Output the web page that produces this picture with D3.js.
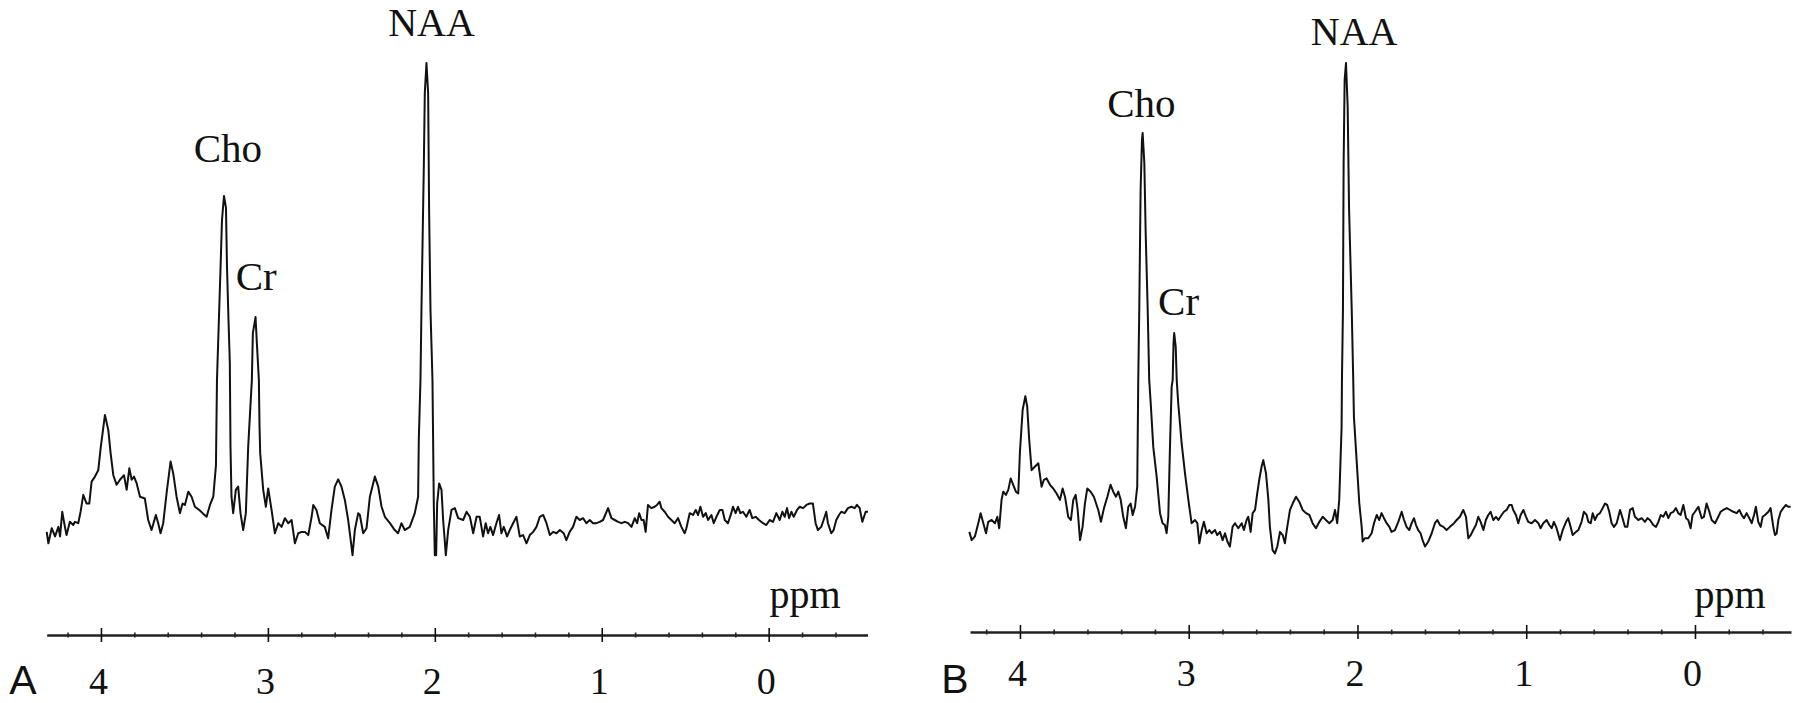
<!DOCTYPE html>
<html><head><meta charset="utf-8">
<script src="https://cdn.jsdelivr.net/npm/d3@7/dist/d3.min.js"></script>
<style>body{margin:0;background:#fff}svg{display:block}</style>
</head><body>
<svg id="c" width="1800" height="703"></svg>
<script>
// ---- Spectrum A (ppm, intensity in % of NAA peak) ----
const ppmA = [4.325,4.315,4.295,4.275,4.255,4.245,4.232,4.216,4.206,4.186,4.166,4.156,4.136,4.122,4.106,4.086,4.070,4.056,4.036,4.016,4.001,3.976,3.956,3.942,3.926,3.906,3.886,3.862,3.846,3.830,3.816,3.802,3.786,3.766,3.737,3.717,3.697,3.671,3.657,3.643,3.627,3.607,3.583,3.567,3.547,3.527,3.511,3.497,3.477,3.457,3.437,3.411,3.391,3.367,3.347,3.327,3.311,3.305,3.293,3.284,3.275,3.263,3.251,3.245,3.236,3.228,3.224,3.218,3.208,3.192,3.178,3.164,3.148,3.132,3.118,3.105,3.096,3.090,3.074,3.066,3.054,3.050,3.046,3.028,3.012,2.998,2.978,2.958,2.938,2.918,2.898,2.878,2.858,2.838,2.818,2.798,2.778,2.758,2.738,2.728,2.709,2.689,2.659,2.639,2.619,2.599,2.579,2.559,2.539,2.519,2.499,2.493,2.479,2.459,2.449,2.429,2.409,2.389,2.359,2.339,2.319,2.299,2.269,2.240,2.220,2.200,2.180,2.150,2.120,2.100,2.096,2.086,2.080,2.066,2.060,2.050,2.040,2.034,2.026,2.014,2.006,2.000,1.992,1.986,1.974,1.960,1.950,1.934,1.920,1.900,1.880,1.860,1.830,1.810,1.790,1.770,1.750,1.731,1.711,1.695,1.681,1.667,1.651,1.631,1.615,1.601,1.587,1.567,1.551,1.531,1.511,1.491,1.471,1.451,1.431,1.411,1.391,1.371,1.351,1.331,1.311,1.291,1.271,1.251,1.228,1.212,1.192,1.172,1.152,1.132,1.112,1.092,1.072,1.052,1.032,1.012,0.992,0.962,0.942,0.922,0.902,0.882,0.862,0.842,0.822,0.802,0.788,0.776,0.762,0.749,0.737,0.723,0.703,0.683,0.669,0.653,0.643,0.623,0.603,0.583,0.563,0.543,0.523,0.503,0.493,0.473,0.453,0.437,0.423,0.409,0.393,0.377,0.363,0.343,0.329,0.313,0.293,0.277,0.263,0.244,0.224,0.214,0.198,0.184,0.170,0.154,0.134,0.114,0.098,0.078,0.058,0.034,0.014,-0.006,-0.026,-0.046,-0.066,-0.082,-0.096,-0.110,-0.122,-0.136,-0.150,-0.170,-0.186,-0.206,-0.226,-0.246,-0.265,-0.281,-0.295,-0.315,-0.329,-0.345,-0.355,-0.375,-0.389,-0.405,-0.421,-0.435,-0.455,-0.475,-0.495,-0.515,-0.529,-0.545,-0.561,-0.571,-0.581,-0.595];
const intA = [-2.6,-5.1,-1.8,-3.6,-1.5,-3.6,1.8,-1.5,-3.3,-0.4,-1.1,-0.4,-0.7,1.8,5.5,3.6,3.6,8.4,9.5,10.9,16.0,23.0,19.7,14.6,9.8,7.7,8.8,9.8,6.6,11.3,8.8,9.5,8.0,5.1,4.7,0,-2.2,1.1,-0.7,-2.9,-0.7,5.8,12.8,10.2,5.1,1.5,3.6,3.3,6.2,5.1,2.9,2.2,1.5,0.7,3.3,5.1,12.0,30.6,44.4,54.7,65.6,70.9,68.3,55.4,43.8,34.4,16.0,5.1,1.5,6.6,7.3,1.5,-2.2,1.5,16.0,24.7,30.6,40.9,44.4,38.7,30.6,20.4,14.6,6.6,2.9,6.9,2.2,-2.9,-0.7,-1.5,0.4,-0.7,0,-5.1,-2.9,-2.6,-2.6,-3.3,0.7,3.3,2.2,-0.7,-1.5,-4.0,2.2,7.3,8.9,7.3,4.4,0,-5.8,-7.7,-2.2,1.5,1.1,-2.9,-1.8,5.1,9.5,7.3,2.9,0.7,-0.7,-2.2,-2.9,-0.7,-2.2,-1.5,1.5,5.1,17.5,30.6,46.0,77.2,93.4,100,93.4,67.2,46.0,30.6,3.3,-7.7,-7.7,3.6,8.0,6.6,0,-7.7,-2.2,2.2,2.6,0.4,0,1.8,0.7,-2.9,0.7,0.7,-3.6,-0.7,-2.9,-1.5,-3.3,-0.7,1.1,-2.9,-1.5,-3.6,-2.2,-0.7,0.7,-3.6,-3.3,-5.1,-3.3,-2.6,-1.5,0.7,1.1,-0.7,-3.3,-2.6,-2.9,-2.2,-2.9,-4.4,-2.6,-1.5,0.7,0,0.4,-0.7,0,-0.7,-0.7,-0.4,0,2.6,0.4,0,-0.4,-0.7,-0.4,-0.7,-1.5,0.4,-0.7,1.5,0,0,-2.6,3.3,2.6,2.9,3.3,4.0,2.6,1.8,0.7,0,-0.7,0.4,-1.5,-2.9,-1.8,1.5,1.1,2.2,1.1,2.9,0.7,1.5,0,1.1,-0.7,0.7,2.2,2.2,0,-0.7,1.5,2.9,1.5,2.9,1.5,1.8,0.7,2.2,0.4,0.7,0,-0.7,-1.1,0,-0.4,1.5,0,1.8,0.7,2.6,0.4,1.8,0.7,2.2,2.9,2.6,3.3,3.6,3.6,-0.7,-2.2,-1.5,0,1.8,-0.7,-2.9,-2.2,0,1.1,1.8,1.5,2.6,2.9,2.6,3.3,2.6,-0.4,0.7,1.8,1.8];

// ---- Spectrum B ----
const ppmB = [4.300,4.286,4.267,4.247,4.233,4.217,4.201,4.188,4.168,4.148,4.134,4.123,4.109,4.099,4.083,4.069,4.055,4.040,4.024,4.010,4.000,3.984,3.968,3.957,3.945,3.931,3.911,3.891,3.872,3.858,3.842,3.822,3.803,3.783,3.763,3.747,3.733,3.714,3.698,3.684,3.670,3.658,3.644,3.629,3.615,3.601,3.581,3.562,3.536,3.520,3.502,3.482,3.463,3.447,3.431,3.417,3.403,3.388,3.372,3.358,3.344,3.332,3.318,3.305,3.299,3.293,3.285,3.277,3.273,3.263,3.255,3.243,3.234,3.225,3.210,3.190,3.170,3.155,3.141,3.131,3.121,3.111,3.101,3.095,3.090,3.086,3.077,3.071,3.062,3.042,3.022,3.002,2.983,2.963,2.949,2.937,2.923,2.910,2.894,2.878,2.864,2.844,2.831,2.815,2.799,2.785,2.771,2.756,2.740,2.726,2.706,2.686,2.673,2.657,2.647,2.633,2.621,2.607,2.594,2.582,2.568,2.558,2.542,2.528,2.519,2.503,2.489,2.475,2.459,2.443,2.430,2.416,2.400,2.384,2.364,2.345,2.325,2.305,2.285,2.266,2.246,2.226,2.206,2.187,2.167,2.147,2.133,2.120,2.108,2.094,2.092,2.086,2.082,2.076,2.068,2.058,2.050,2.034,2.025,2.021,2.005,1.989,1.975,1.969,1.956,1.936,1.916,1.902,1.886,1.871,1.857,1.843,1.827,1.811,1.798,1.778,1.758,1.738,1.724,1.709,1.693,1.679,1.665,1.653,1.640,1.626,1.614,1.600,1.580,1.560,1.541,1.527,1.511,1.491,1.472,1.452,1.428,1.412,1.393,1.373,1.357,1.343,1.329,1.314,1.298,1.284,1.270,1.254,1.239,1.225,1.211,1.195,1.179,1.165,1.146,1.132,1.116,1.100,1.086,1.077,1.061,1.047,1.033,1.017,1.001,0.988,0.968,0.948,0.928,0.915,0.899,0.879,0.863,0.849,0.836,0.820,0.800,0.784,0.764,0.751,0.737,0.725,0.705,0.691,0.672,0.658,0.642,0.632,0.618,0.606,0.593,0.579,0.563,0.547,0.533,0.520,0.508,0.494,0.480,0.464,0.444,0.429,0.415,0.401,0.385,0.369,0.356,0.336,0.316,0.296,0.282,0.267,0.247,0.231,0.217,0.203,0.188,0.172,0.158,0.144,0.128,0.113,0.099,0.085,0.069,0.053,0.040,0.026,0.014,0.000,-0.020,-0.040,-0.053,-0.069,-0.085,-0.099,-0.119,-0.138,-0.152,-0.168,-0.188,-0.207,-0.227,-0.247,-0.263,-0.277,-0.290,-0.306,-0.322,-0.336,-0.350,-0.361,-0.375,-0.389,-0.401,-0.415,-0.435,-0.448,-0.464,-0.474,-0.484,-0.494,-0.508,-0.523,-0.539,-0.553,-0.567];
const intB = [-2.6,-4.4,-3.6,-0.7,1.5,-0.7,-2.9,-0.4,0,-0.7,0.7,-1.8,4.4,6.2,5.5,6.6,9.1,7.7,6.2,5.8,15.0,24.1,27.1,24.8,17.5,10.9,11.7,12.4,7.3,8.8,9.1,7.7,6.9,5.8,4.4,6.9,5.1,0.7,0,4.4,5.5,2.2,-4.4,-1.5,3.6,6.9,6.2,5.1,2.2,-0.4,2.6,5.1,7.7,6.2,5.1,6.2,4.4,0.7,-1.8,2.9,3.6,1.1,2.9,7.3,30.6,46.0,72.2,83.2,84.7,78.1,62.8,46.0,30.6,25.5,16.0,9.5,1.5,-0.7,-1.1,-2.9,0.7,16.0,29.2,30.6,38.7,40.9,37.9,30.6,25.5,16.8,10.2,4.4,-0.7,0,-0.7,-5.1,-2.2,-0.4,-2.9,-2.2,-2.9,-2.2,-3.3,-2.6,-4.4,-2.9,-4.7,-5.8,-1.5,-0.7,-1.8,-0.7,-2.2,0,0.7,-2.6,1.5,2.2,5.8,8.8,11.7,13.1,10.2,4.4,-1.5,-6.6,-7.3,-5.8,-2.6,-3.3,-5.1,-1.5,2.2,3.6,5.1,4.0,2.2,1.5,1.1,-0.7,-1.8,-0.4,0.7,0,-0.7,0,2.2,-0.7,4.4,20.4,30.6,46.0,78.1,96.3,100,90.4,68.5,46.0,30.6,22.6,13.1,3.6,-1.5,-4.7,-4.0,-4.0,-2.9,-0.7,1.1,0,1.5,0.4,-0.7,-1.5,-2.6,-2.2,-0.4,1.8,0,-1.5,-2.2,-0.7,0.4,-1.1,-2.2,-2.9,-4.4,-5.8,-4.7,-2.9,-0.7,0,-1.1,-1.5,-2.2,-1.5,-0.7,0,0.7,2.2,0.7,-4.0,-3.3,-2.2,-1.1,0.7,-0.4,-2.2,0,1.1,1.8,0,0.7,0,1.1,1.8,2.2,3.3,3.3,2.2,1.1,-0.7,1.1,2.2,0.7,-0.4,-0.7,0,-0.7,-1.8,-0.7,0,-1.1,-1.8,-0.4,-1.8,-4.4,-2.2,-0.4,0.4,-1.5,-3.3,-2.6,-2.2,-0.4,1.8,1.1,-0.4,-0.7,1.5,0,1.1,1.5,2.6,3.6,3.3,1.8,-0.7,-1.5,-0.7,2.2,0.4,-1.5,-1.5,2.2,2.6,0.7,0,0.4,-0.4,0.4,0,-1.1,-1.5,-0.4,1.1,0.7,1.8,0.4,1.5,1.8,2.6,1.5,1.1,3.3,0.4,0,-1.8,1.1,1.8,2.9,0.4,0.7,3.6,1.8,0,-0.7,0.7,1.8,2.2,2.6,2.2,1.8,1.5,2.2,1.1,0.4,1.5,0.4,-0.7,1.1,2.9,-0.4,-1.5,0.7,1.1,1.8,2.6,-1.5,-3.3,-2.9,0,1.8,2.6,3.3,2.9,2.9];

// ---- Axis ticks ----
const majorTicks = [4, 3, 2, 1, 0];
const minorTicks = [4.2, 3.8, 3.6, 3.4, 3.2, 2.8, 2.6, 2.4, 2.2, 1.8, 1.6, 1.4, 1.2, 0.8, 0.6, 0.4, 0.2, -0.2, -0.4];

// ---- Peak labels (anchor in ppm / intensity units) ----
const peakNames = ["Cho", "Cr", "NAA"];
const labelPpmA = [3.24, 3.07, 2.02];
const labelIntA = [78.3, 50.3, 105.9];
const labelPpmB = [3.28, 3.06, 2.02];
const labelIntB = [88.2, 44.9, 103.9];

const svg = d3.select("#c");
const y = d3.scaleLinear().domain([0, 100]).range([520, 63]);

const panels = [
  {letter: "A", ppm: ppmA, val: intA, domain: [4.325, -0.592], range: [46.7, 867.5], axisY: 635,
   lp: labelPpmA, li: labelIntA, letterX: 23, letterY: 694, tickLabelY: 59, ppmX: 805},
  {letter: "B", ppm: ppmB, val: intB, domain: [4.296, -0.569], range: [970, 1791], axisY: 632,
   lp: labelPpmB, li: labelIntB, letterX: 955, letterY: 693, tickLabelY: 54, ppmX: 1730}
];

panels.forEach(p => {
  const x = d3.scaleLinear().domain(p.domain).range(p.range);
  const g = svg.append("g");
  const pts = p.ppm.map((d, i) => [d, p.val[i]]);
  g.append("path").datum(pts)
    .attr("d", d3.line().x(d => x(d[0])).y(d => y(d[1])))
    .attr("fill", "none").attr("stroke", "#111").attr("stroke-width", 2)
    .attr("stroke-linejoin", "round");

  // minor ticks
  const minor = g.append("g").attr("transform", `translate(0,${p.axisY})`)
    .call(d3.axisBottom(x).tickValues(minorTicks).tickSize(3).tickSizeOuter(0).tickFormat(""));
  minor.select(".domain").remove();
  minor.selectAll(".tick line").attr("y1", -2.5).attr("y2", 2.5).attr("stroke", "#222").attr("stroke-width", 1.6);

  // major ticks + axis line
  const ax = g.append("g").attr("transform", `translate(0,${p.axisY})`)
    .call(d3.axisBottom(x).tickValues(majorTicks).tickSize(7).tickSizeOuter(0).tickFormat(d3.format("d")));
  ax.select(".domain").attr("stroke", "#222").attr("stroke-width", 2.4);
  ax.selectAll(".tick line").attr("y1", -7).attr("y2", 7).attr("stroke", "#111").attr("stroke-width", 1.6);
  ax.selectAll(".tick text").attr("dy", null).attr("y", p.tickLabelY).attr("x", -3)
    .attr("font-family", "Liberation Serif").attr("font-size", 38).attr("fill", "#111");

  // ppm label
  g.append("text").attr("x", p.ppmX).attr("y", 608).attr("text-anchor", "middle")
    .attr("font-family", "Liberation Serif").attr("font-size", 40).attr("fill", "#111").text("ppm");

  // panel letter
  g.append("text").attr("x", p.letterX).attr("y", p.letterY).attr("text-anchor", "middle")
    .attr("font-family", "Liberation Sans").attr("font-size", 41).attr("fill", "#111").text(p.letter);

  // peak labels
  peakNames.forEach((n, i) => {
    g.append("text").attr("x", x(p.lp[i])).attr("y", y(p.li[i])).attr("text-anchor", "middle")
      .attr("font-family", "Liberation Serif").attr("font-size", i === 2 ? 40 : 41).attr("fill", "#111").text(n);
  });
});
</script>
</body></html>
